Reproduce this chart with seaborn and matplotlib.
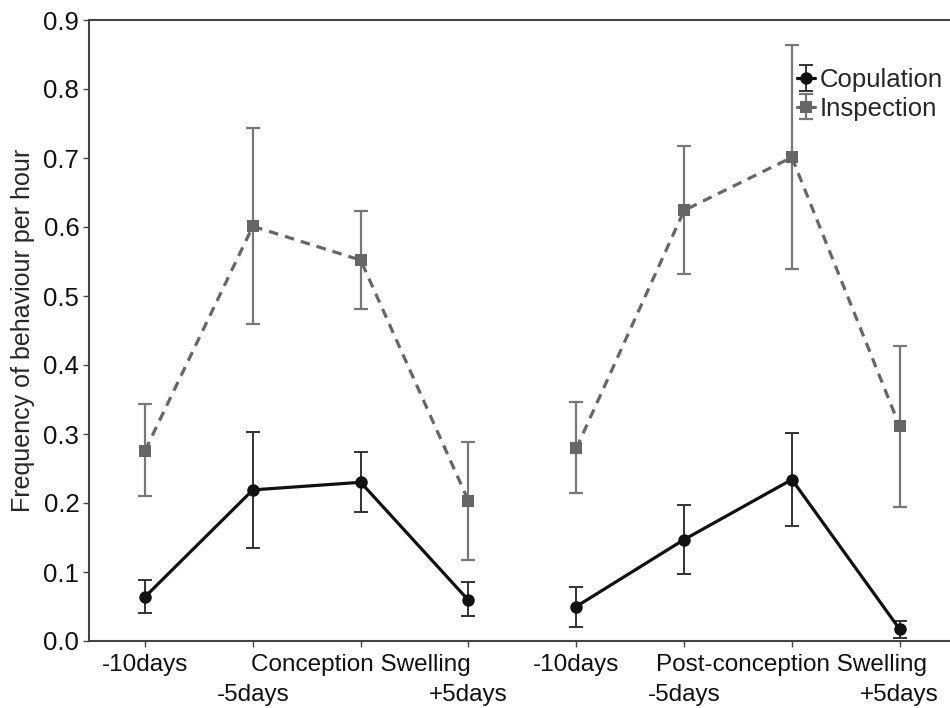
import numpy as np
import pandas as pd
import matplotlib
matplotlib.use("Agg")
import matplotlib.pyplot as plt
import seaborn as sns
from matplotlib.legend_handler import HandlerTuple
from matplotlib.lines import Line2D

# ---- data ----
positions = [0, 1, 2, 3, 4, 5, 6, 7]
period = ["Conception"] * 4 + ["Post-conception"] * 4
upper_pos = [0, 2, 4, 6]
upper_labels = ["-10days", "Conception Swelling", "-10days", "Post-conception Swelling"]
lower_pos = [1, 3, 5, 7]
lower_labels = ["-5days", "+5days", "-5days", "+5days"]
yticks = [0.0, 0.1, 0.2, 0.3, 0.4, 0.5, 0.6, 0.7, 0.8, 0.9]

cop_mean = [0.064, 0.219, 0.230, 0.059, 0.050, 0.147, 0.234, 0.017]
cop_hi = [0.088, 0.303, 0.274, 0.085, 0.078, 0.197, 0.302, 0.029]
cop_lo = [0.040, 0.135, 0.187, 0.036, 0.021, 0.097, 0.166, 0.004]

ins_mean = [0.276, 0.601, 0.552, 0.203, 0.279, 0.624, 0.701, 0.311]
ins_hi = [0.343, 0.744, 0.623, 0.289, 0.346, 0.717, 0.864, 0.427]
ins_lo = [0.210, 0.459, 0.481, 0.118, 0.214, 0.532, 0.539, 0.194]

sns.set_theme(style="white")
plt.rcParams["font.family"] = ["Liberation Sans", "DejaVu Sans"]

df = pd.DataFrame({
    "x": positions * 2,
    "y": cop_mean + ins_mean,
    "behaviour": ["Copulation"] * 8 + ["Inspection"] * 8,
    "period": period * 2,
})

fig = plt.figure(figsize=(9.5, 7.08), dpi=100)
ax = fig.add_axes([89 / 950, 67 / 708, 870 / 950, 621 / 708])

cop_col = "#111111"
ins_col = "#666666"

sns.lineplot(data=df, x="x", y="y", hue="behaviour", style="behaviour",
             units="period", estimator=None, sort=False,
             palette={"Copulation": cop_col, "Inspection": ins_col},
             dashes={"Copulation": "", "Inspection": (3.0, 2.2)},
             markers={"Copulation": "o", "Inspection": "s"},
             markersize=9, markeredgewidth=0, linewidth=2.3,
             legend=False, ax=ax, zorder=3)

cop_err = [np.array(cop_mean) - np.array(cop_lo), np.array(cop_hi) - np.array(cop_mean)]
ins_err = [np.array(ins_mean) - np.array(ins_lo), np.array(ins_hi) - np.array(ins_mean)]
eb_cop = ax.errorbar(positions, cop_mean, yerr=cop_err, fmt="none", ecolor="#333333",
                     elinewidth=1.4, capsize=5, capthick=1.4, zorder=2)
eb_ins = ax.errorbar(positions, ins_mean, yerr=ins_err, fmt="none", ecolor="#777777",
                     elinewidth=1.6, capsize=5, capthick=1.6, zorder=2)

# legend proxies (overlay errorbar glyph and line/marker)
h_cop = Line2D([], [], color=cop_col, lw=2.3, marker="o", markersize=9, markeredgewidth=0)
h_ins = Line2D([], [], color=ins_col, lw=2.3, marker="s", markersize=9, markeredgewidth=0)
leg = ax.legend([(eb_cop, h_cop), (eb_ins, h_ins)], ["Copulation", "Inspection"],
                handler_map={tuple: HandlerTuple(ndivide=1)},
                loc="upper left", bbox_to_anchor=((797 - 89) / 870, 1 - 48 / 621),
                frameon=False, fontsize=18.5, handlelength=0.7, handletextpad=0.2,
                labelspacing=0.18, borderaxespad=0, borderpad=0)

ax.set_xlim(-0.52, 7.55)
ax.set_ylim(0, 0.9)
ax.set_xticks(upper_pos)
ax.set_xticklabels(upper_labels)
ax.set_xticks(lower_pos, minor=True)
ax.set_xticklabels(lower_labels, minor=True)
ax.set_yticks(yticks)
ax.set_yticklabels([f"{v:.1f}" for v in yticks])
ax.set_xlabel("")
ax.set_ylabel("Frequency of behaviour per hour", fontsize=18, labelpad=6)
ax.tick_params(axis="both", which="both", direction="out", length=4, width=1,
               color="#444444", labelcolor="#111111", bottom=True, left=True)
ax.tick_params(axis="x", which="major", pad=5, labelsize=17.5)
ax.tick_params(axis="x", which="minor", pad=27, labelsize=17.5)
ax.tick_params(axis="y", pad=3, labelsize=18.5)

for s in ["left", "top", "bottom"]:
    ax.spines[s].set_visible(True)
    ax.spines[s].set_color("#444444")
    ax.spines[s].set_linewidth(1.5)
ax.spines["right"].set_visible(False)

fig.savefig("out.png", dpi=100)
